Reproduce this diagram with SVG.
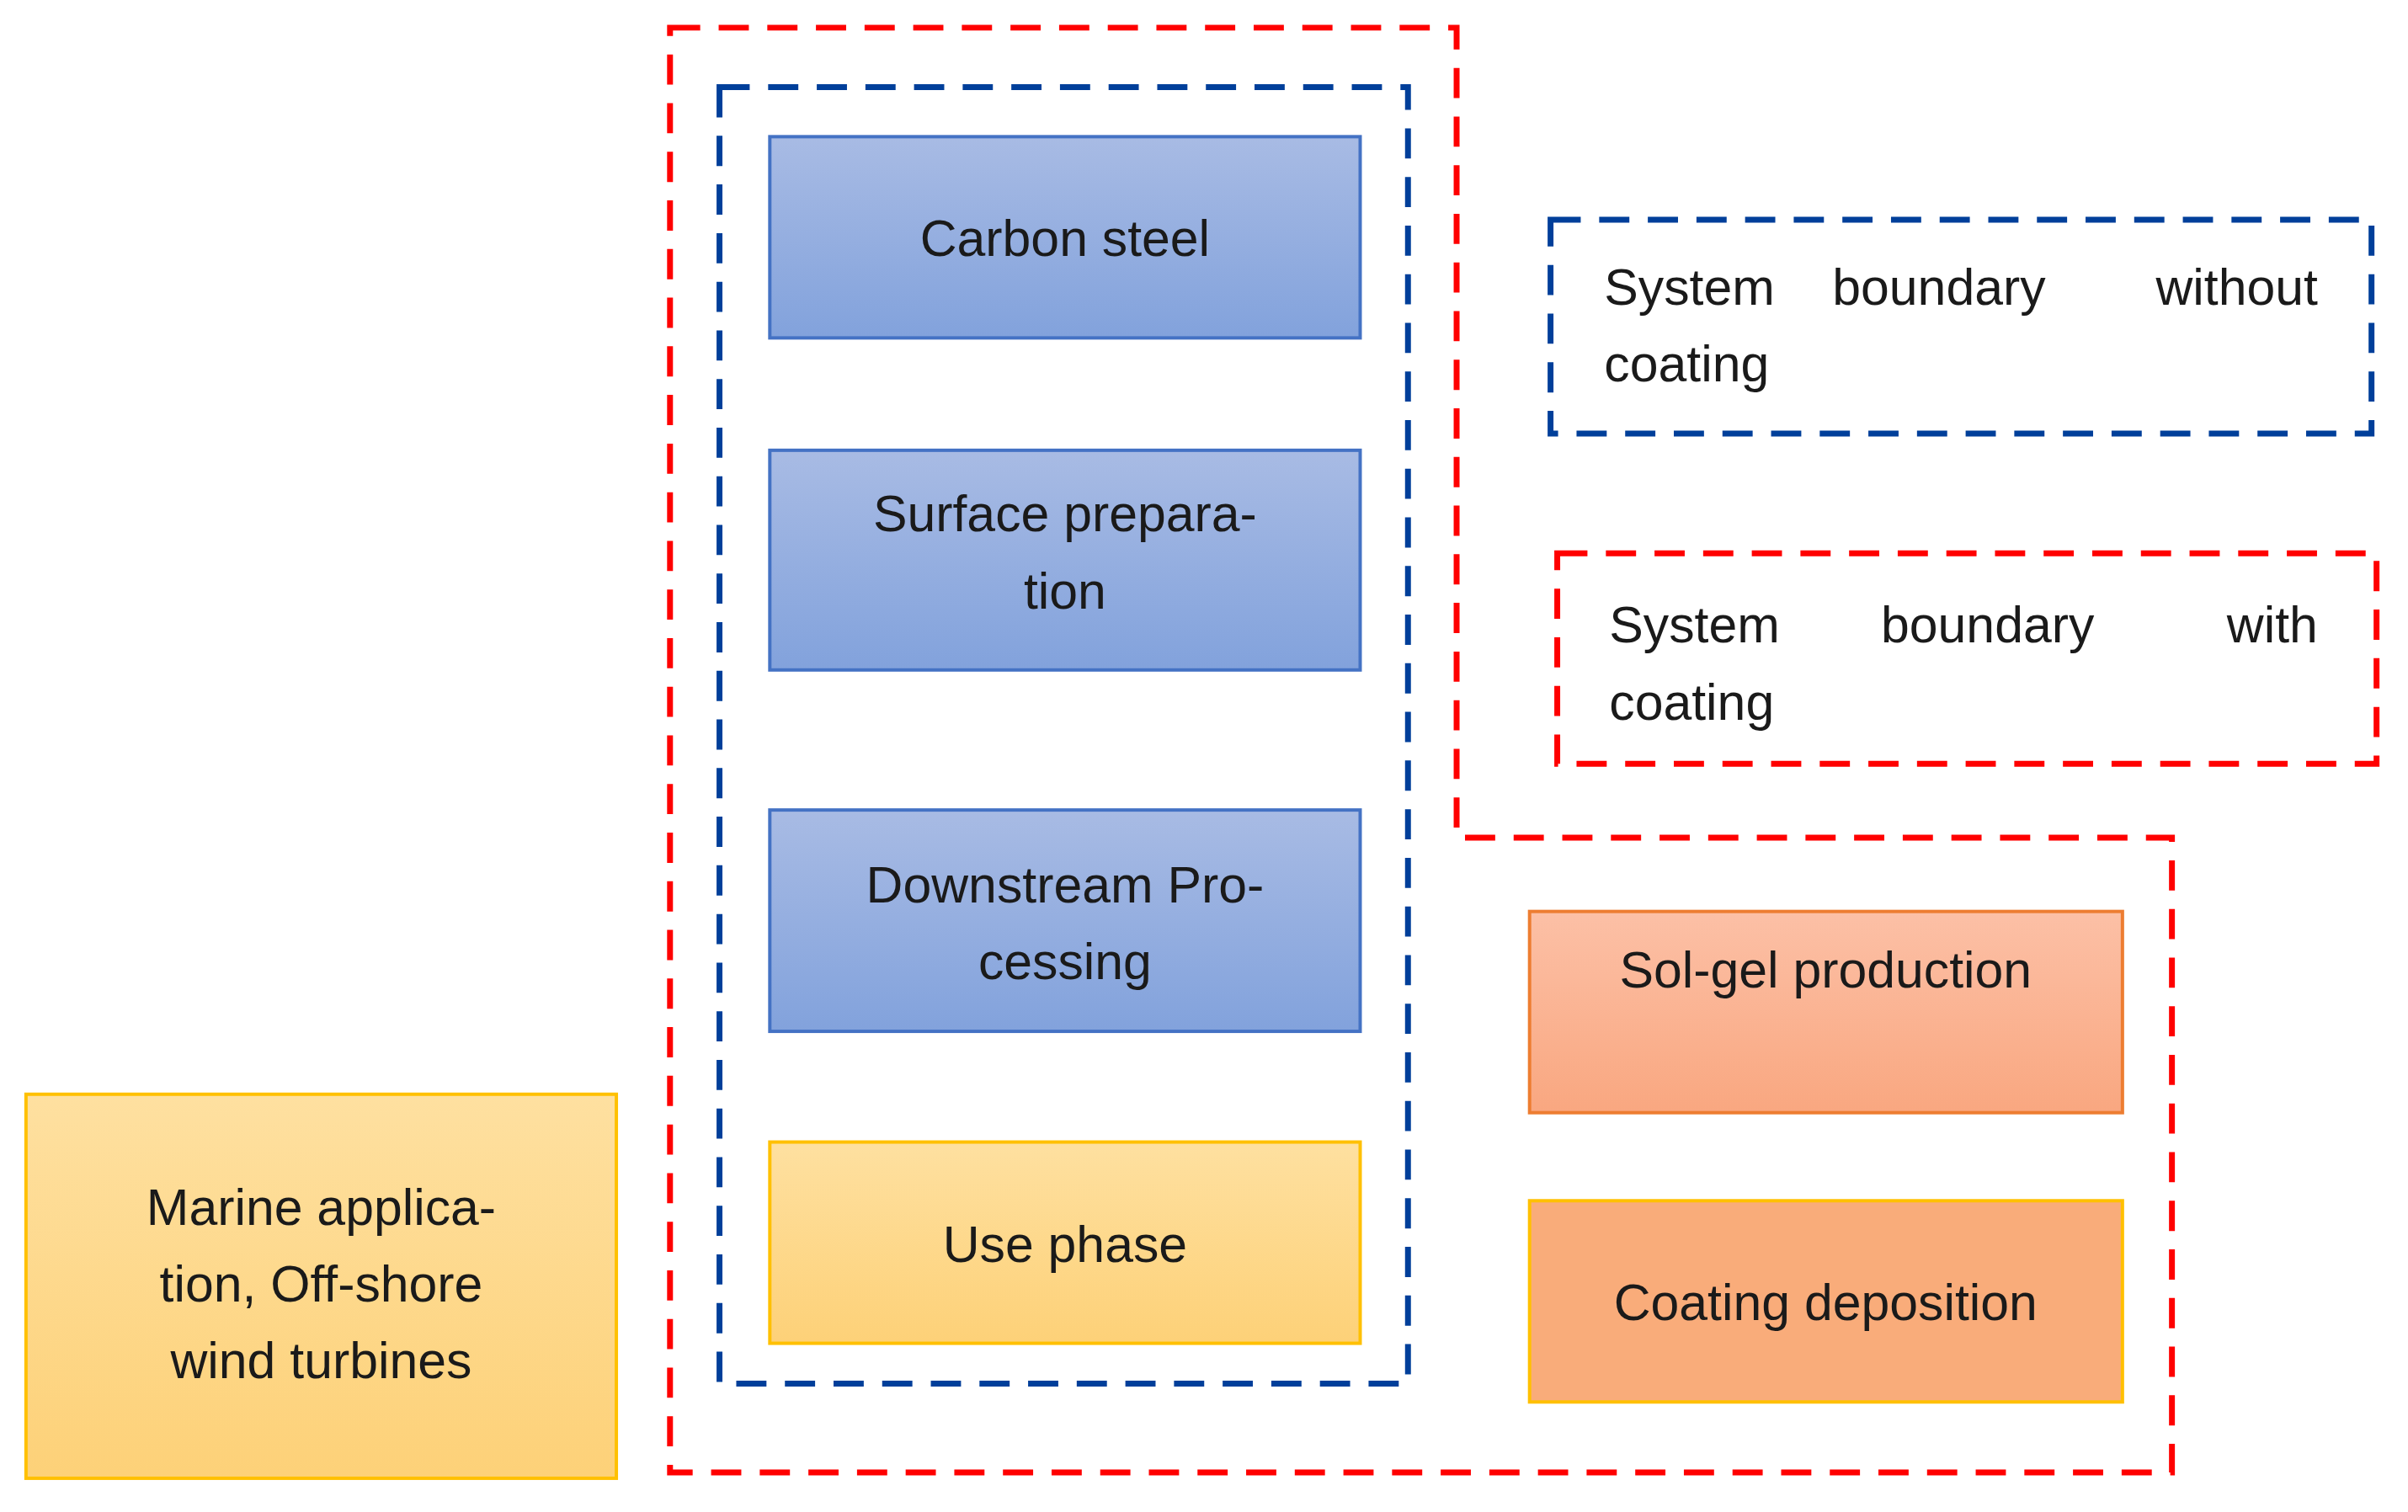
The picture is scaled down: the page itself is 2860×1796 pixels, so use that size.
<svg xmlns="http://www.w3.org/2000/svg" width="2860" height="1796" viewBox="0 0 2860 1796">
<defs>
<linearGradient id="gb" x1="0" y1="0" x2="0" y2="1"><stop offset="0" stop-color="#a8bbe4"/><stop offset="1" stop-color="#82a2dc"/></linearGradient>
<linearGradient id="gy" x1="0" y1="0" x2="0" y2="1"><stop offset="0" stop-color="#fee0a0"/><stop offset="1" stop-color="#fdd178"/></linearGradient>
<linearGradient id="go" x1="0" y1="0" x2="0" y2="1"><stop offset="0" stop-color="#fcc0a6"/><stop offset="1" stop-color="#f9a780"/></linearGradient>
</defs>
<style>
text{font-family:"Liberation Sans",Arial,sans-serif;font-size:61px;fill:#1a1a1a;text-anchor:middle}
.l{text-anchor:start}
.b{fill:url(#gb);stroke:#4472c4;stroke-width:4}
.y{fill:url(#gy);stroke:#ffc000;stroke-width:4}
.o{fill:url(#go);stroke:#ed7d31;stroke-width:4}
.rd{fill:none;stroke:#ff0000;stroke-width:7;stroke-dasharray:36 22}
.bd{fill:none;stroke:#003f9a;stroke-width:7;stroke-dasharray:36 22}
</style>
<g transform="translate(-4,0) scale(0.996)">
<g id="boundaries">
<path class="rd" d="M803,33 H1741 V999 H2594 V1756 H803 Z"/>
<rect class="bd" x="862" y="104" width="821" height="1546"/>
</g>
<g id="carbon"><rect class="b" x="922" y="163" width="704" height="240"/><text x="1274" y="305">Carbon steel</text></g>
<g id="surface"><rect class="b" x="922" y="537" width="704" height="262"/><text x="1274" y="634">Surface prepara-</text><text x="1274" y="726">tion</text></g>
<g id="downstream"><rect class="b" x="922" y="966" width="704" height="264"/><text x="1274" y="1076">Downstream Pro-</text><text x="1274" y="1168">cessing</text></g>
<g id="use"><rect class="y" x="922" y="1362" width="704" height="240"/><text x="1274" y="1505">Use phase</text></g>
<g id="marine"><rect class="y" x="35" y="1305" width="704" height="458"/><text x="387" y="1461">Marine applica-</text><text x="387" y="1552">tion, Off-shore</text><text x="387" y="1644">wind turbines</text></g>
<g id="solgel"><rect class="o" x="1828" y="1087" width="707" height="240"/><text x="2181" y="1178">Sol-gel production</text></g>
<g id="coating"><rect x="1828" y="1432" width="707" height="240" fill="#f9ac7a" stroke="#ffc000" stroke-width="4"/><text x="2181" y="1574">Coating deposition</text></g>
<g id="legend-blue"><rect class="bd" x="1853" y="262" width="979" height="255"/>
<text class="l" x="1917" y="363">System</text><text class="l" x="2189" y="363">boundary</text><text x="2768" y="363" style="text-anchor:end">without</text><text class="l" x="1917" y="455">coating</text></g>
<g id="legend-red"><rect class="rd" x="1861" y="660" width="977" height="251"/>
<text class="l" x="1923" y="766">System</text><text class="l" x="2247" y="766">boundary</text><text x="2768" y="766" style="text-anchor:end">with</text><text class="l" x="1923" y="858">coating</text></g>
<g id="connectors"/>
</g>
</svg>
